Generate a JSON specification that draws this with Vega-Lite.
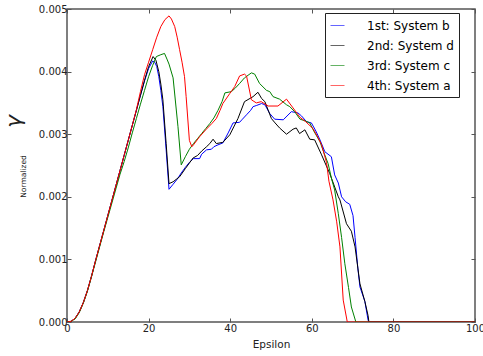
{
  "$schema": "https://vega.github.io/schema/vega-lite/v6.json",
  "autosize": {"type": "none"},
  "width": 408,
  "height": 313,
  "padding": {"left": 67, "top": 9, "right": 8, "bottom": 34},
  "background": "white",
  "config": {
    "font": "DejaVu Sans",
    "view": {"stroke": "#555555", "strokeWidth": 1.5},
    "axis": {"domain": false, "grid": false, "tickColor": "#555555", "tickSize": -4, "labelFontSize": 10, "labelColor": "#222222", "titleFontWeight": "normal", "titleColor": "#222222"}
  },
  "datasets": {
    "d": [
      {"s": "1st: System b", "e": 0, "v": 0}, {"s": "1st: System b", "e": 1, "v": 0.00001}, {"s": "1st: System b", "e": 2, "v": 0.00006}, {"s": "1st: System b", "e": 3, "v": 0.00016}, {"s": "1st: System b", "e": 4, "v": 0.00031}, {"s": "1st: System b", "e": 5, "v": 0.0005}, {"s": "1st: System b", "e": 6, "v": 0.00073}, {"s": "1st: System b", "e": 7, "v": 0.00098}, {"s": "1st: System b", "e": 8, "v": 0.00122}, {"s": "1st: System b", "e": 9, "v": 0.00146}, {"s": "1st: System b", "e": 10, "v": 0.0017}, {"s": "1st: System b", "e": 11, "v": 0.00194}, {"s": "1st: System b", "e": 12, "v": 0.00218}, {"s": "1st: System b", "e": 13, "v": 0.00242}, {"s": "1st: System b", "e": 14, "v": 0.00266}, {"s": "1st: System b", "e": 15, "v": 0.0029}, {"s": "1st: System b", "e": 16, "v": 0.00314}, {"s": "1st: System b", "e": 17, "v": 0.00338}, {"s": "1st: System b", "e": 18, "v": 0.00362}, {"s": "1st: System b", "e": 19, "v": 0.00385}, {"s": "1st: System b", "e": 20, "v": 0.00405}, {"s": "1st: System b", "e": 21, "v": 0.00417}, {"s": "1st: System b", "e": 21.5, "v": 0.00415}, {"s": "1st: System b", "e": 22, "v": 0.00408}, {"s": "1st: System b", "e": 22.5, "v": 0.00392}, {"s": "1st: System b", "e": 23, "v": 0.0037}, {"s": "1st: System b", "e": 23.5, "v": 0.00344}, {"s": "1st: System b", "e": 24.3, "v": 0.00275}, {"s": "1st: System b", "e": 25, "v": 0.00212}, {"s": "1st: System b", "e": 26, "v": 0.0022}, {"s": "1st: System b", "e": 27, "v": 0.00228}, {"s": "1st: System b", "e": 28, "v": 0.00238}, {"s": "1st: System b", "e": 29, "v": 0.00247}, {"s": "1st: System b", "e": 30, "v": 0.00255}, {"s": "1st: System b", "e": 31, "v": 0.00261}, {"s": "1st: System b", "e": 32.5, "v": 0.00261}, {"s": "1st: System b", "e": 33, "v": 0.00268}, {"s": "1st: System b", "e": 34.2, "v": 0.00275}, {"s": "1st: System b", "e": 35.4, "v": 0.00276}, {"s": "1st: System b", "e": 36, "v": 0.0028}, {"s": "1st: System b", "e": 37, "v": 0.00283}, {"s": "1st: System b", "e": 38.2, "v": 0.00286}, {"s": "1st: System b", "e": 39.5, "v": 0.00302}, {"s": "1st: System b", "e": 40.7, "v": 0.00318}, {"s": "1st: System b", "e": 42.3, "v": 0.00319}, {"s": "1st: System b", "e": 43, "v": 0.00324}, {"s": "1st: System b", "e": 44, "v": 0.00331}, {"s": "1st: System b", "e": 45, "v": 0.00338}, {"s": "1st: System b", "e": 45.6, "v": 0.00344}, {"s": "1st: System b", "e": 46.5, "v": 0.00346}, {"s": "1st: System b", "e": 47.7, "v": 0.00349}, {"s": "1st: System b", "e": 48.5, "v": 0.00347}, {"s": "1st: System b", "e": 49.7, "v": 0.00333}, {"s": "1st: System b", "e": 50.9, "v": 0.00324}, {"s": "1st: System b", "e": 53, "v": 0.00323}, {"s": "1st: System b", "e": 55, "v": 0.00336}, {"s": "1st: System b", "e": 56.6, "v": 0.00334}, {"s": "1st: System b", "e": 57.5, "v": 0.00329}, {"s": "1st: System b", "e": 58.7, "v": 0.0032}, {"s": "1st: System b", "e": 59.9, "v": 0.00318}, {"s": "1st: System b", "e": 61, "v": 0.00305}, {"s": "1st: System b", "e": 62, "v": 0.00291}, {"s": "1st: System b", "e": 63.2, "v": 0.00272}, {"s": "1st: System b", "e": 64.8, "v": 0.00264}, {"s": "1st: System b", "e": 65.6, "v": 0.00235}, {"s": "1st: System b", "e": 66.5, "v": 0.00222}, {"s": "1st: System b", "e": 67.3, "v": 0.002}, {"s": "1st: System b", "e": 68.3, "v": 0.00192}, {"s": "1st: System b", "e": 69.3, "v": 0.00188}, {"s": "1st: System b", "e": 70.1, "v": 0.0017}, {"s": "1st: System b", "e": 70.6, "v": 0.00135}, {"s": "1st: System b", "e": 71.3, "v": 0.00085}, {"s": "1st: System b", "e": 71.8, "v": 0.00056}, {"s": "1st: System b", "e": 73, "v": 0.00033}, {"s": "1st: System b", "e": 73.8, "v": 0.00003}, {"s": "1st: System b", "e": 74, "v": 0}, {"s": "1st: System b", "e": 100, "v": 0},

      {"s": "2nd: System d", "e": 0, "v": 0}, {"s": "2nd: System d", "e": 1, "v": 0.00001}, {"s": "2nd: System d", "e": 2, "v": 0.00006}, {"s": "2nd: System d", "e": 3, "v": 0.00016}, {"s": "2nd: System d", "e": 4, "v": 0.00031}, {"s": "2nd: System d", "e": 5, "v": 0.0005}, {"s": "2nd: System d", "e": 6, "v": 0.00073}, {"s": "2nd: System d", "e": 7, "v": 0.00098}, {"s": "2nd: System d", "e": 8, "v": 0.00122}, {"s": "2nd: System d", "e": 9, "v": 0.00146}, {"s": "2nd: System d", "e": 10, "v": 0.0017}, {"s": "2nd: System d", "e": 11, "v": 0.00194}, {"s": "2nd: System d", "e": 12, "v": 0.00218}, {"s": "2nd: System d", "e": 13, "v": 0.00242}, {"s": "2nd: System d", "e": 14, "v": 0.00266}, {"s": "2nd: System d", "e": 15, "v": 0.0029}, {"s": "2nd: System d", "e": 16, "v": 0.00314}, {"s": "2nd: System d", "e": 17, "v": 0.00338}, {"s": "2nd: System d", "e": 18, "v": 0.00362}, {"s": "2nd: System d", "e": 19, "v": 0.00386}, {"s": "2nd: System d", "e": 20, "v": 0.00408}, {"s": "2nd: System d", "e": 21.1, "v": 0.00424}, {"s": "2nd: System d", "e": 21.8, "v": 0.00418}, {"s": "2nd: System d", "e": 22.5, "v": 0.004}, {"s": "2nd: System d", "e": 23, "v": 0.0038}, {"s": "2nd: System d", "e": 23.5, "v": 0.00355}, {"s": "2nd: System d", "e": 24.3, "v": 0.00285}, {"s": "2nd: System d", "e": 25, "v": 0.00221}, {"s": "2nd: System d", "e": 26, "v": 0.00224}, {"s": "2nd: System d", "e": 27.6, "v": 0.00232}, {"s": "2nd: System d", "e": 29, "v": 0.00245}, {"s": "2nd: System d", "e": 30.9, "v": 0.00262}, {"s": "2nd: System d", "e": 32, "v": 0.00266}, {"s": "2nd: System d", "e": 33, "v": 0.00273}, {"s": "2nd: System d", "e": 34.2, "v": 0.0028}, {"s": "2nd: System d", "e": 35, "v": 0.00285}, {"s": "2nd: System d", "e": 35.8, "v": 0.00292}, {"s": "2nd: System d", "e": 36.6, "v": 0.00285}, {"s": "2nd: System d", "e": 38.2, "v": 0.00287}, {"s": "2nd: System d", "e": 39.9, "v": 0.00299}, {"s": "2nd: System d", "e": 41.9, "v": 0.00325}, {"s": "2nd: System d", "e": 43.5, "v": 0.00352}, {"s": "2nd: System d", "e": 45.6, "v": 0.0036}, {"s": "2nd: System d", "e": 46.8, "v": 0.00367}, {"s": "2nd: System d", "e": 47.7, "v": 0.00357}, {"s": "2nd: System d", "e": 48.5, "v": 0.00352}, {"s": "2nd: System d", "e": 50.1, "v": 0.00325}, {"s": "2nd: System d", "e": 51, "v": 0.00318}, {"s": "2nd: System d", "e": 52.1, "v": 0.0031}, {"s": "2nd: System d", "e": 53.8, "v": 0.003}, {"s": "2nd: System d", "e": 55.4, "v": 0.00308}, {"s": "2nd: System d", "e": 56.2, "v": 0.0031}, {"s": "2nd: System d", "e": 57, "v": 0.00301}, {"s": "2nd: System d", "e": 58.3, "v": 0.00307}, {"s": "2nd: System d", "e": 59.5, "v": 0.00292}, {"s": "2nd: System d", "e": 60.7, "v": 0.00291}, {"s": "2nd: System d", "e": 62.4, "v": 0.00267}, {"s": "2nd: System d", "e": 64.4, "v": 0.00237}, {"s": "2nd: System d", "e": 66.5, "v": 0.002}, {"s": "2nd: System d", "e": 66.9, "v": 0.00195}, {"s": "2nd: System d", "e": 68.5, "v": 0.00157}, {"s": "2nd: System d", "e": 69.7, "v": 0.00145}, {"s": "2nd: System d", "e": 70.6, "v": 0.0012}, {"s": "2nd: System d", "e": 71.8, "v": 0.00061}, {"s": "2nd: System d", "e": 73, "v": 0.00033}, {"s": "2nd: System d", "e": 73.8, "v": 0.0001}, {"s": "2nd: System d", "e": 74, "v": 0}, {"s": "2nd: System d", "e": 100, "v": 0},

      {"s": "3rd: System c", "e": 0, "v": 0}, {"s": "3rd: System c", "e": 1, "v": 0.00001}, {"s": "3rd: System c", "e": 2, "v": 0.00005}, {"s": "3rd: System c", "e": 3, "v": 0.00015}, {"s": "3rd: System c", "e": 4, "v": 0.0003}, {"s": "3rd: System c", "e": 5, "v": 0.00049}, {"s": "3rd: System c", "e": 6, "v": 0.00072}, {"s": "3rd: System c", "e": 7, "v": 0.00096}, {"s": "3rd: System c", "e": 8, "v": 0.0012}, {"s": "3rd: System c", "e": 9, "v": 0.00144}, {"s": "3rd: System c", "e": 10, "v": 0.00167}, {"s": "3rd: System c", "e": 11, "v": 0.0019}, {"s": "3rd: System c", "e": 12, "v": 0.00213}, {"s": "3rd: System c", "e": 13, "v": 0.00236}, {"s": "3rd: System c", "e": 14, "v": 0.00256}, {"s": "3rd: System c", "e": 15, "v": 0.00278}, {"s": "3rd: System c", "e": 16, "v": 0.00302}, {"s": "3rd: System c", "e": 17, "v": 0.00325}, {"s": "3rd: System c", "e": 18, "v": 0.00348}, {"s": "3rd: System c", "e": 19, "v": 0.0037}, {"s": "3rd: System c", "e": 20, "v": 0.00392}, {"s": "3rd: System c", "e": 21, "v": 0.0041}, {"s": "3rd: System c", "e": 21.9, "v": 0.00424}, {"s": "3rd: System c", "e": 23, "v": 0.00427}, {"s": "3rd: System c", "e": 23.9, "v": 0.00429}, {"s": "3rd: System c", "e": 24.5, "v": 0.0042}, {"s": "3rd: System c", "e": 25, "v": 0.00412}, {"s": "3rd: System c", "e": 26, "v": 0.0039}, {"s": "3rd: System c", "e": 27.2, "v": 0.00312}, {"s": "3rd: System c", "e": 28, "v": 0.00251}, {"s": "3rd: System c", "e": 29, "v": 0.00264}, {"s": "3rd: System c", "e": 30, "v": 0.00276}, {"s": "3rd: System c", "e": 31, "v": 0.00285}, {"s": "3rd: System c", "e": 32, "v": 0.00293}, {"s": "3rd: System c", "e": 33, "v": 0.00301}, {"s": "3rd: System c", "e": 34, "v": 0.00309}, {"s": "3rd: System c", "e": 35, "v": 0.00317}, {"s": "3rd: System c", "e": 36, "v": 0.00326}, {"s": "3rd: System c", "e": 37, "v": 0.00338}, {"s": "3rd: System c", "e": 38, "v": 0.00352}, {"s": "3rd: System c", "e": 38.7, "v": 0.00366}, {"s": "3rd: System c", "e": 40.3, "v": 0.00368}, {"s": "3rd: System c", "e": 41.3, "v": 0.00374}, {"s": "3rd: System c", "e": 42.3, "v": 0.00381}, {"s": "3rd: System c", "e": 43.5, "v": 0.0039}, {"s": "3rd: System c", "e": 45.2, "v": 0.00398}, {"s": "3rd: System c", "e": 46, "v": 0.00396}, {"s": "3rd: System c", "e": 47.2, "v": 0.00381}, {"s": "3rd: System c", "e": 48.9, "v": 0.0037}, {"s": "3rd: System c", "e": 49.7, "v": 0.00368}, {"s": "3rd: System c", "e": 50.5, "v": 0.0036}, {"s": "3rd: System c", "e": 52.1, "v": 0.00356}, {"s": "3rd: System c", "e": 53.8, "v": 0.00347}, {"s": "3rd: System c", "e": 54.6, "v": 0.00344}, {"s": "3rd: System c", "e": 55.8, "v": 0.00336}, {"s": "3rd: System c", "e": 57.1, "v": 0.00324}, {"s": "3rd: System c", "e": 58.5, "v": 0.00321}, {"s": "3rd: System c", "e": 59.5, "v": 0.00318}, {"s": "3rd: System c", "e": 60.5, "v": 0.00305}, {"s": "3rd: System c", "e": 62, "v": 0.00288}, {"s": "3rd: System c", "e": 63, "v": 0.0027}, {"s": "3rd: System c", "e": 64, "v": 0.00253}, {"s": "3rd: System c", "e": 64.8, "v": 0.0023}, {"s": "3rd: System c", "e": 65.6, "v": 0.00211}, {"s": "3rd: System c", "e": 66.5, "v": 0.00173}, {"s": "3rd: System c", "e": 67.3, "v": 0.00135}, {"s": "3rd: System c", "e": 68.1, "v": 0.00093}, {"s": "3rd: System c", "e": 69, "v": 0.00055}, {"s": "3rd: System c", "e": 69.7, "v": 0.00024}, {"s": "3rd: System c", "e": 70.8, "v": 0}, {"s": "3rd: System c", "e": 100, "v": 0},

      {"s": "4th: System a", "e": 0, "v": 0}, {"s": "4th: System a", "e": 1, "v": 0.00001}, {"s": "4th: System a", "e": 2, "v": 0.00006}, {"s": "4th: System a", "e": 3, "v": 0.00016}, {"s": "4th: System a", "e": 4, "v": 0.00031}, {"s": "4th: System a", "e": 5, "v": 0.0005}, {"s": "4th: System a", "e": 6, "v": 0.00073}, {"s": "4th: System a", "e": 7, "v": 0.00098}, {"s": "4th: System a", "e": 8, "v": 0.00122}, {"s": "4th: System a", "e": 9, "v": 0.00146}, {"s": "4th: System a", "e": 10, "v": 0.0017}, {"s": "4th: System a", "e": 11, "v": 0.00194}, {"s": "4th: System a", "e": 12, "v": 0.00218}, {"s": "4th: System a", "e": 13, "v": 0.00242}, {"s": "4th: System a", "e": 14, "v": 0.00266}, {"s": "4th: System a", "e": 15, "v": 0.0029}, {"s": "4th: System a", "e": 16, "v": 0.00314}, {"s": "4th: System a", "e": 17, "v": 0.00339}, {"s": "4th: System a", "e": 18, "v": 0.00368}, {"s": "4th: System a", "e": 19, "v": 0.00395}, {"s": "4th: System a", "e": 20, "v": 0.00415}, {"s": "4th: System a", "e": 21, "v": 0.00435}, {"s": "4th: System a", "e": 22, "v": 0.00455}, {"s": "4th: System a", "e": 23, "v": 0.00472}, {"s": "4th: System a", "e": 24, "v": 0.00483}, {"s": "4th: System a", "e": 25, "v": 0.00489}, {"s": "4th: System a", "e": 25.6, "v": 0.00484}, {"s": "4th: System a", "e": 26.4, "v": 0.00472}, {"s": "4th: System a", "e": 27, "v": 0.00455}, {"s": "4th: System a", "e": 27.6, "v": 0.00435}, {"s": "4th: System a", "e": 28.2, "v": 0.00415}, {"s": "4th: System a", "e": 28.8, "v": 0.00392}, {"s": "4th: System a", "e": 29.2, "v": 0.0036}, {"s": "4th: System a", "e": 30, "v": 0.0029}, {"s": "4th: System a", "e": 30.6, "v": 0.0028}, {"s": "4th: System a", "e": 31, "v": 0.00283}, {"s": "4th: System a", "e": 32.5, "v": 0.00296}, {"s": "4th: System a", "e": 34, "v": 0.00307}, {"s": "4th: System a", "e": 35.5, "v": 0.00317}, {"s": "4th: System a", "e": 36.6, "v": 0.00325}, {"s": "4th: System a", "e": 37.5, "v": 0.00338}, {"s": "4th: System a", "e": 38.2, "v": 0.00349}, {"s": "4th: System a", "e": 39.9, "v": 0.00365}, {"s": "4th: System a", "e": 41.1, "v": 0.00376}, {"s": "4th: System a", "e": 42.3, "v": 0.00393}, {"s": "4th: System a", "e": 43.5, "v": 0.00396}, {"s": "4th: System a", "e": 44, "v": 0.00393}, {"s": "4th: System a", "e": 45.2, "v": 0.00355}, {"s": "4th: System a", "e": 46.4, "v": 0.0035}, {"s": "4th: System a", "e": 47.6, "v": 0.00352}, {"s": "4th: System a", "e": 49.3, "v": 0.00345}, {"s": "4th: System a", "e": 51.7, "v": 0.00345}, {"s": "4th: System a", "e": 53.8, "v": 0.00356}, {"s": "4th: System a", "e": 55.4, "v": 0.00342}, {"s": "4th: System a", "e": 57.1, "v": 0.00327}, {"s": "4th: System a", "e": 58.5, "v": 0.0032}, {"s": "4th: System a", "e": 60.3, "v": 0.00309}, {"s": "4th: System a", "e": 61.5, "v": 0.00295}, {"s": "4th: System a", "e": 62.4, "v": 0.00283}, {"s": "4th: System a", "e": 63.6, "v": 0.00255}, {"s": "4th: System a", "e": 64.2, "v": 0.00225}, {"s": "4th: System a", "e": 65.2, "v": 0.00195}, {"s": "4th: System a", "e": 66.1, "v": 0.0016}, {"s": "4th: System a", "e": 66.9, "v": 0.0012}, {"s": "4th: System a", "e": 67.7, "v": 0.00035}, {"s": "4th: System a", "e": 68.7, "v": 0}, {"s": "4th: System a", "e": 100, "v": 0}
    ]
  },
  "data": {"name": "d"},
  "layer": [
    {
      "mark": {"type": "line", "strokeWidth": 1, "clip": true},
      "encoding": {
        "x": {"field": "e", "type": "quantitative", "scale": {"domain": [0, 100], "nice": false},
              "axis": {"orient": "bottom", "values": [0, 20, 40, 60, 80, 100], "title": "Epsilon", "titleFontSize": 10.5, "labelPadding": 5, "titlePadding": 6, "labelFlush": false}},
        "y": {"field": "v", "type": "quantitative", "scale": {"domain": [0, 0.005], "nice": false},
              "axis": {"orient": "left", "values": [0, 0.001, 0.002, 0.003, 0.004, 0.005], "format": ".3f", "title": "Normalized", "titleFontSize": 7.5, "titleAngle": -90, "titleX": -42, "titleY": 167, "titleAlign": "center", "titleBaseline": "alphabetic", "labelPadding": 4}},
        "color": {"field": "s", "type": "nominal",
                  "scale": {"domain": ["1st: System b", "2nd: System d", "3rd: System c", "4th: System a"], "range": ["#0000ff", "#000000", "#008000", "#ff0000"]},
                  "legend": {"title": null, "orient": "none", "legendX": 258, "legendY": 4, "symbolType": "stroke", "symbolSize": 196, "symbolStrokeWidth": 1, "labelFontSize": 12, "labelColor": "#000000", "labelOffset": 22, "padding": 5, "rowPadding": 6, "strokeColor": "#222222", "fillColor": "white", "symbolOpacity": 0.6}}
      }
    },
    {
      "mark": {"type": "line", "opacity": 0},
      "encoding": {
        "x": {"field": "e", "type": "quantitative", "scale": {"domain": [0, 100], "nice": false},
              "axis": {"orient": "top", "values": [0, 20, 40, 60, 80, 100], "labels": false, "title": null}},
        "y": {"field": "v", "type": "quantitative", "scale": {"domain": [0, 0.005], "nice": false},
              "axis": {"orient": "right", "values": [0, 0.001, 0.002, 0.003, 0.004, 0.005], "labels": false, "title": null}}
      }
    },
    {
      "mark": {"type": "line", "opacity": 0},
      "encoding": {
        "x": {"field": "e", "type": "quantitative", "scale": {"domain": [0, 100], "nice": false}, "axis": null},
        "y": {"field": "v", "type": "quantitative", "scale": {"domain": [0, 0.005], "nice": false},
              "axis": {"orient": "left", "labels": false, "ticks": false, "title": "γ", "titleFontSize": 22, "titleFontStyle": "italic", "titleFontWeight": "normal", "titleAngle": -90, "titleX": -47, "titleY": 112, "titleAlign": "center", "titleBaseline": "alphabetic"}}
      }
    }
  ],
  "resolve": {"axis": {"x": "independent", "y": "independent"}}
}
